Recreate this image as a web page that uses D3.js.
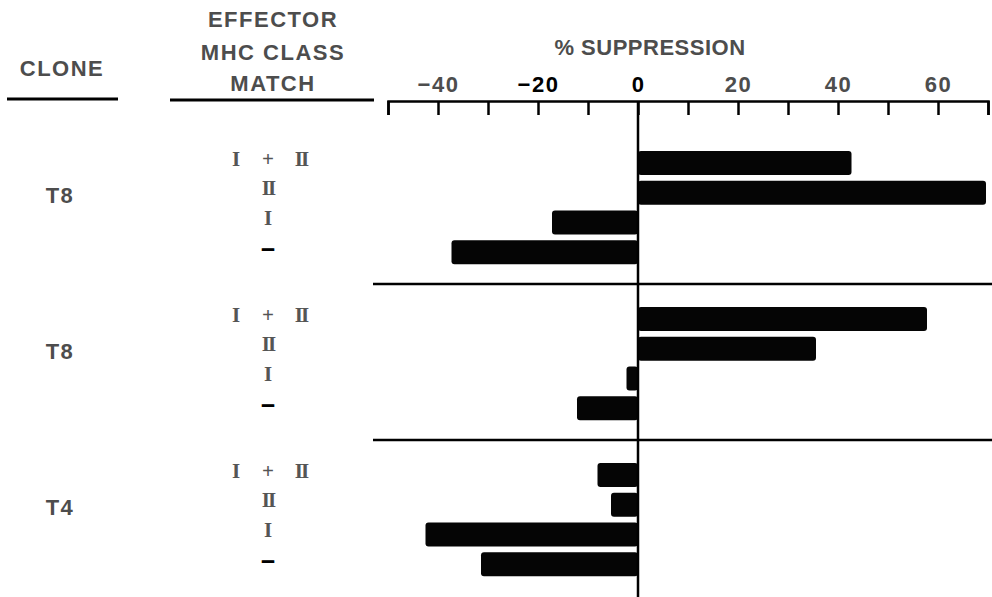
<!DOCTYPE html>
<html>
<head>
<meta charset="utf-8">
<script src="https://cdn.jsdelivr.net/npm/d3@7"></script>
<style>
  body { margin: 0; background: #fff; }
  svg { display: block; }
  .sans { font-family: "Liberation Sans", Arial, sans-serif; fill: #4d4d4d; font-weight: bold; letter-spacing: 1.5px; }
  .roman { font-family: "Liberation Serif", "Times New Roman", serif; fill: #555; font-weight: bold; }
</style>
</head>
<body>
<script>
// chart data
const clones = ['T8', 'T8', 'T4'];
const matchClasses = ['I + II', 'II', 'I', '–'];
const suppressionA = [42.7, 69.6, -17.2, -37.3];
const suppressionB = [57.8, 35.6, -2.3, -12.2];
const suppressionC = [-8.1, -5.4, -42.5, -31.4];
const tickValues = [-50, -40, -30, -20, -10, 0, 10, 20, 30, 40, 50, 60, 70];

const series = [suppressionA, suppressionB, suppressionC];

const width = 992;
const height = 597;
const axisY = 101;

const svg = d3.select('body')
  .append('svg')
  .attr('width', width)
  .attr('height', height);

// scales
const x = d3.scaleLinear().domain([-50, 70]).range([388, 988]);
const yGroup = d3.scaleBand().domain(d3.range(clones.length)).range([128, 596]);
const yRow = d3.scaleBand().domain(matchClasses).range([23, 136.2]).paddingInner(0.19);

// column headings
svg.append('text').attr('class', 'sans')
  .attr('x', 62).attr('y', 76)
  .attr('text-anchor', 'middle').style('font-size', '22px')
  .text('CLONE');

[['EFFECTOR', 27], ['MHC CLASS', 60], ['MATCH', 91]].forEach(([t, yy]) => {
  svg.append('text').attr('class', 'sans')
    .attr('x', 273).attr('y', yy)
    .attr('text-anchor', 'middle').style('font-size', '22px')
    .text(t);
});

svg.append('line')
  .attr('x1', 7).attr('x2', 118).attr('y1', 99).attr('y2', 99)
  .attr('stroke', '#000').attr('stroke-width', 3);
svg.append('line')
  .attr('x1', 170).attr('x2', 374).attr('y1', 100).attr('y2', 100)
  .attr('stroke', '#000').attr('stroke-width', 3);

svg.append('text').attr('class', 'sans')
  .attr('x', 650).attr('y', 55)
  .attr('text-anchor', 'middle').style('font-size', '22px')
  .style('letter-spacing', '0.5px')
  .text('% SUPPRESSION');

// top axis, ticks pointing down
const axis = svg.append('g')
  .attr('transform', `translate(0,${axisY})`)
  .call(d3.axisTop(x)
    .tickValues(tickValues)
    .tickSizeInner(-14)
    .tickSizeOuter(-14)
    .tickPadding(9)
    .tickFormat(d => (d % 20 === 0 && d > -50 && d < 70 ? d3.format('d')(d) : '')));

axis.select('.domain').attr('stroke', '#000').attr('stroke-width', 2.5);
axis.selectAll('.tick line').attr('stroke', '#000').attr('stroke-width', 2.5);
axis.selectAll('.tick text')
  .attr('class', 'sans')
  .style('font-size', '22px')
  .style('letter-spacing', '1.5px')
  .style('fill', d => (d === -20 || d === 0 ? '#000' : '#4d4d4d'));

// group separators
svg.selectAll('.sep')
  .data(d3.range(1, clones.length))
  .enter()
  .append('line')
  .attr('class', 'sep')
  .attr('x1', 373).attr('x2', width)
  .attr('y1', d => yGroup(d)).attr('y2', d => yGroup(d))
  .attr('stroke', '#000').attr('stroke-width', 2.5);

// bars and labels per clone
const groups = svg.selectAll('.grp')
  .data(series)
  .enter()
  .append('g')
  .attr('class', 'grp')
  .attr('transform', (d, i) => `translate(0,${yGroup(i)})`);

groups.selectAll('rect')
  .data(d => d.map((v, j) => ({ cls: matchClasses[j], v })))
  .enter()
  .append('rect')
  .attr('x', d => x(Math.min(0, d.v)))
  .attr('y', d => yRow(d.cls))
  .attr('width', d => Math.abs(x(d.v) - x(0)))
  .attr('height', yRow.bandwidth())
  .attr('rx', 3)
  .attr('fill', '#050505');

groups.append('text')
  .attr('class', 'sans')
  .attr('x', 60)
  .attr('y', 75)
  .attr('text-anchor', 'middle')
  .style('font-size', '22px')
  .text((d, i) => clones[i]);

// effector MHC class labels
groups.each(function () {
  const g = d3.select(this);
  matchClasses.forEach((c) => {
    const yy = yRow(c) + yRow.bandwidth() / 2 + 2.5;
    if (c === '–') {
      g.append('text').attr('class', 'roman')
        .attr('x', 268).attr('y', yy)
        .attr('text-anchor', 'middle')
        .style('font-size', '22px').style('fill', '#000')
        .style('stroke', '#000').style('stroke-width', 1.2)
        .text(c);
    } else {
      const parts = c.split(' ');
      const offs = parts.length === 3 ? [-32, 0, 33] : [0];
      parts.forEach((p, k) => {
        g.append('text').attr('class', 'roman')
          .attr('x', 268 + offs[k]).attr('y', yy)
          .attr('text-anchor', 'middle')
          .style('font-size', '21px')
          .style('letter-spacing', p === 'II' ? '-2px' : '0px')
          .text(p);
      });
    }
  });
});

// zero line through the whole chart
svg.append('line')
  .attr('x1', x(0)).attr('x2', x(0))
  .attr('y1', axisY).attr('y2', height)
  .attr('stroke', '#000').attr('stroke-width', 2.5);
</script>
</body>
</html>
